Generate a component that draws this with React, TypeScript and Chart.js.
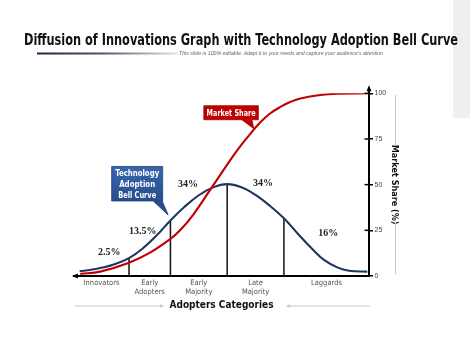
import React, { useEffect, useRef } from "react";
import { Chart, registerables } from "chart.js";

Chart.register(...registerables);

// ---------- data ----------
const TITLE = "Diffusion of Innovations Graph with Technology Adoption Bell Curve";
const SUBTITLE = "This slide is 100% editable. Adapt it to your needs and capture your audience\u2019s attention";
const X_TITLE = "Adopters Categories";
const Y_TITLE = "Market Share (%)";

const categories: string[][] = [["Innovators"], ["Early", "Adopters"], ["Early", "Majority"], ["Late", "Majority"], ["Laggards"]];
const categoryCenters = [-2.215, -1.365, -0.5, 0.5, 1.75];
const boundaryX = [-1.73, -1.0, 0, 1.0];

const bellX = [-2.6, -2.4, -2.2, -2.0, -1.73, -1.5, -1.25, -1.0, -0.75, -0.5, -0.25, 0, 0.25, 0.5, 0.75, 1.0, 1.25, 1.5, 1.7, 1.95, 2.15, 2.47];
const bellY = [2.6, 3.4, 4.6, 6.3, 9.8, 14.8, 22.0, 30.4, 37.9, 44.2, 48.5, 50.3, 48.6, 44.4, 38.5, 31.6, 23.0, 14.8, 9.0, 4.6, 2.9, 2.4];

const shareX = [-2.59, -2.24, -1.73, -1.36, -1.0, -0.83, -0.6, -0.25, 0.1, 0.23, 0.4, 0.58, 0.75, 0.93, 1.11, 1.29, 1.64, 1.99, 2.49];
const shareY = [1.1, 2.4, 7.3, 12.8, 20.3, 25.0, 33.5, 49.5, 65.5, 71.0, 77.5, 84.0, 88.8, 92.4, 95.2, 97.2, 99.1, 99.8, 100];

const pctLabels = ["2.5%", "13.5%", "34%", "34%", "16%"];
const pctX = [-2.08, -1.49, -0.69, 0.63, 1.78];
const pctY = [13.1, 24.6, 50.1, 50.4, 23.5];

const yTicks = [0, 25, 50, 75, 100];

const marketCallout = { text: ["Market Share"], widths: [49], x: 0.47, y: 80.6 };
const techCallout = { text: ["Technology", "Adoption", "Bell Curve"], widths: [44, 36, 38], x: -1.04, y: 33.4 };

// ---------- styles ----------
const NARROW = "'Liberation Sans Narrow', 'Arial Narrow', 'DejaVu Sans Condensed', sans-serif";
const SANS = "'Liberation Sans', Arial, sans-serif";
const SERIF = "'Liberation Serif', 'DejaVu Serif', serif";

function drawText(ctx: CanvasRenderingContext2D, text: string, x: number, y: number, font: string, color: string, width?: number, align: CanvasTextAlign = "center") {
  ctx.save();
  ctx.font = font;
  ctx.fillStyle = color;
  ctx.textBaseline = "alphabetic";
  const w = ctx.measureText(text).width;
  const sx = width ? width / w : 1;
  ctx.translate(x, y);
  ctx.scale(sx, 1);
  ctx.textAlign = align;
  ctx.fillText(text, 0, 0);
  ctx.restore();
}

const decor = {
  id: "decor",
  beforeDraw(chart: any) {
    const ctx = chart.ctx as CanvasRenderingContext2D;
    ctx.save();
    ctx.fillStyle = "#ffffff";
    ctx.fillRect(0, 0, chart.width, chart.height);
    ctx.fillStyle = "#efefef";
    ctx.fillRect(453, 0, 17, 118);
    ctx.restore();
  },
  afterDraw(chart: any) {
    const ctx = chart.ctx as CanvasRenderingContext2D;
    const xs = chart.scales.x;
    const ys = chart.scales.y;
    const area = chart.chartArea;
    ctx.save();

    // title
    drawText(ctx, TITLE, 241, 44.5, `bold 16px ${NARROW}`, "#111111", 434);
    // gradient rule
    const g = ctx.createLinearGradient(37, 0, 178, 0);
    g.addColorStop(0, "#1b2544");
    g.addColorStop(0.45, "#46536f");
    g.addColorStop(1, "#e6e6e6");
    ctx.fillStyle = g;
    ctx.fillRect(37, 52.5, 141, 2);
    drawText(ctx, SUBTITLE, 179, 55.3, `italic 5px ${SANS}`, "#666666", 204, "left");

    // axis arrows
    const ax = xs.getPixelForValue(xs.max);
    ctx.strokeStyle = "#000";
    ctx.fillStyle = "#000";
    ctx.lineWidth = 2;
    ctx.beginPath();
    ctx.moveTo(ax, area.top);
    ctx.lineTo(ax, area.top - 4);
    ctx.stroke();
    ctx.beginPath();
    ctx.moveTo(ax, area.top - 8);
    ctx.lineTo(ax - 2.5, area.top - 2);
    ctx.lineTo(ax + 2.5, area.top - 2);
    ctx.closePath();
    ctx.fill();
    const by = ys.getPixelForValue(0);
    ctx.beginPath();
    ctx.moveTo(area.left - 2, by);
    ctx.lineTo(area.left + 4, by - 2.5);
    ctx.lineTo(area.left + 4, by + 2.5);
    ctx.closePath();
    ctx.fill();
    // inner halves of y tick marks
    ctx.lineWidth = 1.5;
    yTicks.forEach((t) => {
      const py = ys.getPixelForValue(t);
      ctx.beginPath();
      ctx.moveTo(ax - 4.5, py);
      ctx.lineTo(ax, py);
      ctx.stroke();
    });

    // percent labels
    ctx.font = `bold 10px ${SERIF}`;
    ctx.fillStyle = "#222";
    ctx.textAlign = "center";
    ctx.textBaseline = "middle";
    pctLabels.forEach((t, i) => {
      ctx.fillText(t, xs.getPixelForValue(pctX[i]), ys.getPixelForValue(pctY[i]));
    });

    // callouts
    const drawCallout = (c: any, box: number[], base: number[], baselines: number[], fill: string | CanvasGradient, edge: string) => {
      const tx = xs.getPixelForValue(c.x);
      const ty = ys.getPixelForValue(c.y);
      const [x0, x1, y0, y1] = box;
      ctx.beginPath();
      ctx.moveTo(tx + x0, ty + y0);
      ctx.lineTo(tx + x1, ty + y0);
      ctx.lineTo(tx + x1, ty + y1);
      ctx.lineTo(tx + base[1], ty + y1);
      ctx.lineTo(tx, ty);
      ctx.lineTo(tx + base[0], ty + y1);
      ctx.lineTo(tx + x0, ty + y1);
      ctx.closePath();
      ctx.fillStyle = fill;
      ctx.fill();
      ctx.strokeStyle = edge;
      ctx.lineWidth = 0.8;
      ctx.stroke();
      const cx = tx + (x0 + x1) / 2;
      c.text.forEach((line: string, i: number) => {
        drawText(ctx, line, cx, ty + baselines[i], `bold 9px ${NARROW}`, "#ffffff", c.widths[i]);
      });
    };
    drawCallout(marketCallout, [-50, 4.5, -23, -9], [-12, -2], [-13], "#c00000", "#9a0000");
    const tt = ys.getPixelForValue(techCallout.y);
    const tg = ctx.createLinearGradient(0, tt - 48.5, 0, tt - 14);
    tg.addColorStop(0, "#3a66ae");
    tg.addColorStop(1, "#264c8d");
    drawCallout(techCallout, [-56.5, -5.5, -48.5, -14], [-15, -6], [-39, -28, -17], tg, "#1d3f78");

    // guide lines beside axis titles
    ctx.strokeStyle = "#c8c8c8";
    ctx.fillStyle = "#c8c8c8";
    ctx.lineWidth = 1;
    const seg = (x0: number, y0: number, x1: number, y1: number) => {
      ctx.beginPath();
      ctx.moveTo(x0, y0);
      ctx.lineTo(x1, y1);
      ctx.stroke();
    };
    seg(75, 306, 163, 306);
    seg(287, 306, 370, 306);
    seg(395.5, 95, 395.5, 146);
    seg(395.5, 222, 395.5, 274);
    ctx.beginPath();
    ctx.moveTo(164, 306); ctx.lineTo(160, 304.3); ctx.lineTo(160, 307.7); ctx.closePath(); ctx.fill();
    ctx.beginPath();
    ctx.moveTo(286, 306); ctx.lineTo(290, 304.3); ctx.lineTo(290, 307.7); ctx.closePath(); ctx.fill();

    ctx.restore();
  },
};

export default function App() {
  const ref = useRef<HTMLCanvasElement | null>(null);
  useEffect(() => {
    if (!ref.current) return;
    const line = (x: number[], y: number[]) => x.map((v, i) => ({ x: v, y: y[i] }));
    const chart = new Chart(ref.current, {
      type: "scatter",
      data: {
        datasets: [
          {
            label: "Market Share",
            data: line(shareX, shareY),
            showLine: true,
            borderColor: "#c00000",
            borderWidth: 2.1,
            pointRadius: 0,
            tension: 0.4,
          } as any,
          {
            label: "Technology Adoption",
            data: line(bellX, bellY),
            showLine: true,
            borderColor: "#1f3560",
            borderWidth: 2.1,
            pointRadius: 0,
            tension: 0.4,
          } as any,
          ...boundaryX.map((bx) => ({
            label: "boundary",
            data: [
              { x: bx, y: 0 },
              { x: bx, y: bellY[bellX.indexOf(bx)] },
            ],
            showLine: true,
            borderColor: "#111111",
            borderWidth: 1.5,
            pointRadius: 0,
          })),
        ],
      },
      options: {
        responsive: false,
        animation: false,
        devicePixelRatio: 1,
        layout: { padding: { left: 74, top: 93.3, right: 74.6, bottom: 43.3 } },
        plugins: { legend: { display: false }, tooltip: { enabled: false }, title: { display: false } },
        scales: {
          x: {
            type: "linear",
            position: "bottom",
            min: -2.7,
            max: 2.5,
            afterBuildTicks: (s: any) => {
              s.ticks = categoryCenters.map((v) => ({ value: v }));
            },
            ticks: {
              autoSkip: false,
              maxRotation: 0,
              padding: 3,
              color: "#555555",
              font: { family: NARROW, size: 7.5, lineHeight: 1.2 },
              callback: (_v: any, i: number) => categories[i],
            },
            grid: { display: false, drawTicks: false },
            border: { display: true, color: "#000000", width: 2 },
            title: {
              display: true,
              text: X_TITLE,
              color: "#111111",
              padding: 0,
              font: { family: NARROW, size: 10, weight: "bold", lineHeight: 1.2 },
            },
            afterFit: (s: any) => {
              s.height = 35.7;
            },
          },
          y: {
            type: "linear",
            position: "right",
            min: 0,
            max: 100,
            afterBuildTicks: (s: any) => {
              s.ticks = yTicks.map((v) => ({ value: v }));
            },
            ticks: { padding: 1.5, color: "#444444", font: { family: SANS, size: 7 } },
            grid: { drawOnChartArea: false, drawTicks: true, tickLength: 4, color: "#000000", lineWidth: 1.5 },
            border: { display: true, color: "#000000", width: 2 },
            title: {
              display: true,
              text: Y_TITLE,
              color: "#111111",
              padding: 0,
              font: { family: NARROW, size: 9, weight: "bold", lineHeight: 1.2 },
            },
            afterFit: (s: any) => {
              s.width = 30.4;
            },
          },
        },
      } as any,
      plugins: [decor],
    });
    return () => chart.destroy();
  }, []);
  return (
    <div style={{ position: "fixed", left: 0, top: 0, width: 474, height: 355, background: "#fff" }}>
      <canvas ref={ref} width={474} height={355} style={{ display: "block", width: 474, height: 355 }} />
    </div>
  );
}
